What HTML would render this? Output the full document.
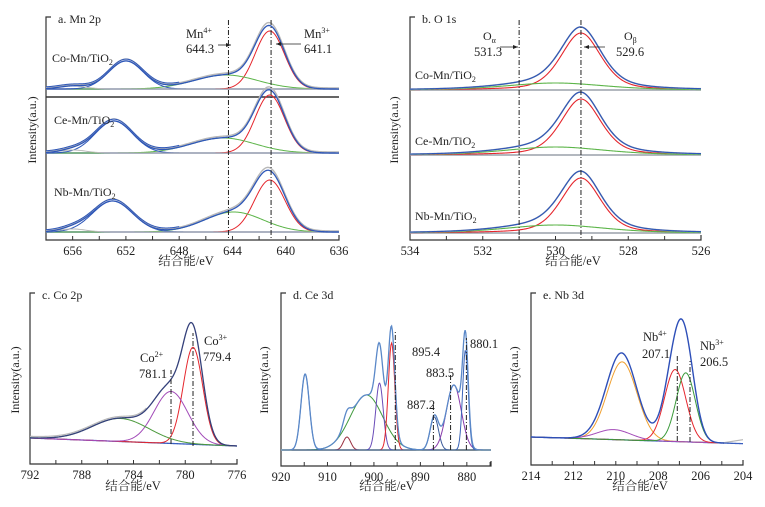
<!DOCTYPE html>
<html><head><meta charset="utf-8"><style>
html,body{margin:0;padding:0;background:#fff;}
svg{display:block;font-family:"Liberation Serif","Noto Serif CJK SC","Noto Sans CJK SC",serif;}
</style></head><body>
<svg id="chart" width="765" height="507" viewBox="0 0 765 507" xmlns="http://www.w3.org/2000/svg"></svg>
<script>
// ---------- DATA (binding energies in eV, intensities in a.u.) ----------
// Panel a: Mn 2p  (components: Mn3+ red, Mn4+ green, 2p1/2 blue, satellite gray)
const mnCompNames=['mn3','mn4','mn2p12','sat'];
const mnCoCenters=[641.2,644.5,652.0,656.0];
const mnCoHeights=[58,14,28,3];
const mnCoWidths=[1.1,2.4,1.3,1.0];
const mnCeCenters=[641.2,644.7,652.9,656.0];
const mnCeHeights=[58,15,32,3];
const mnCeWidths=[1.1,2.4,1.4,1.0];
const mnNbCenters=[641.2,643.9,653.0,656.0];
const mnNbHeights=[52,20,31,3];
const mnNbWidths=[1.15,2.2,1.5,1.0];
const mnTicks=[656,652,648,644,640,636];
const mnRefLines=[644.3,641.1];
// Panel b: O 1s (O-beta lattice red, O-alpha green)
const oCoCenters=[529.3,530.0];
const oCoHeights=[57,7];
const oCoWidths=[1.3,3.2];
const oCeCenters=[529.3,530.0];
const oCeHeights=[56,8];
const oCeWidths=[1.3,3.2];
const oNbCenters=[529.3,530.0];
const oNbHeights=[55,8];
const oNbWidths=[1.3,3.2];
const oTicks=[534,532,530,528,526];
const oRefLines=[531.0,529.3];
// Panel c: Co 2p
const coCenters=[779.4,781.1,785.0];
const coHeights=[97,52,23];
const coWidths=[0.75,1.3,2.2];
const coTicks=[792,788,784,780,776];
// Panel d: Ce 3d
const ceCenters=[914.8,905.8,901.6,898.8,896.2,887.0,882.8,880.3];
const ceHeights=[76,13,55,67,107,33,65,100];
const ceWidths=[0.9,0.8,3.5,0.8,0.7,0.9,1.6,0.6];
const ceTicks=[920,910,900,890,880];
// Panel e: Nb 3d
const nbCenters=[209.7,210.1,207.2,206.7];
const nbHeights=[78,10,72,69];
const nbWidths=[0.7,0.8,0.5,0.45];
const nbTicks=[214,212,210,208,206,204];

// ---------- helpers ----------
const NS='http://www.w3.org/2000/svg';
const svg=document.getElementById('chart');
function mk(tag,attrs,parent){const e=document.createElementNS(NS,tag);for(const k in attrs)e.setAttribute(k,attrs[k]);(parent||svg).appendChild(e);return e;}
function gauss(e,c,h,s){return h*Math.exp(-((e-c)*(e-c))/(2*s*s));}
function pv(e,c,h,f){const s=f/2.3548,g=Math.exp(-((e-c)*(e-c))/(2*s*s)),l=1/(1+4*(e-c)*(e-c)/(f*f));return h*(0.6*g+0.4*l);}
function xs(p,ev){return p.x0+(p.eMax-ev)/(p.eMax-p.eMin)*(p.x1-p.x0);}
function pathFrom(p,fn,baseFn,lo,hi){let d='';const n=300;const a=lo===undefined?p.eMin:lo,b=hi===undefined?p.eMax:hi;for(let i=0;i<=n;i++){const ev=a+(b-a)*i/n;const y=baseFn(ev)-fn(ev);d+=(i?'L':'M')+xs(p,ev).toFixed(2)+','+y.toFixed(2);}return d;}
function txt(x,y,s,attrs,parent){const t=mk('text',Object.assign({x:x,y:y,'font-size':12,fill:'#222'},attrs||{}),parent);t.textContent=s;return t;}

function axes(p,g,ticks,minorStep,title,xlabelX,ylabelX,ylabelY,lblY,xtY){
  const ax=mk('path',{d:`M${p.x0+5},${p.yTop}H${p.x0}V${p.yBot}H${p.x1}V${p.yBot-5}`,fill:'none',stroke:'#333','stroke-width':1.2},g);
  
  
  for(let ev=p.eMax;ev>=p.eMin-1e-6;ev-=minorStep){
    const x=xs(p,ev);
    const tk=mk('line',{x1:x,x2:x,y1:p.yBot,y2:p.yBot-4,stroke:'#333','stroke-width':1},g);
    
    
  }
  ticks.forEach(v=>{
    const t=txt(xs(p,v),p.yBot+15,String(v),{'text-anchor':'middle','font-size':12.5},g);
    
    
  });
  const tt=txt(p.x0+12,p.yTop+6,title,{'font-size':12},g);
  
  
  const xl=txt(xlabelX,xtY,'结合能/eV',{'text-anchor':'middle','font-size':12.5},g);
  
  
  const yl=txt(0,0,'Intensity(a.u.)',{'text-anchor':'middle','font-size':12,transform:`translate(${ylabelX},${ylabelY}) rotate(-90)`},g);
  
  
}
function curve(p,g,d,color,w,name){
  const c=mk('path',{d:d,fill:'none',stroke:color,'stroke-width':w},g);
  
  
  return c;
}
function vline(p,g,ev,y1,y2,name){
  const l=mk('line',{x1:xs(p,ev),x2:xs(p,ev),y1:y1,y2:y2,stroke:'#222','stroke-width':1,'stroke-dasharray':'5,2,1,2'},g);
  
  
}
function supLabel(x,y,base,sup,g,name){
  const t=txt(x,y,base,{'font-size':12.5},g);
  const s=mk('tspan',{dy:-5,'font-size':8},t);s.textContent=sup;
  
  
}
function subLabel(x,y,base,sub,g,name){
  const t=txt(x,y,base,{'font-size':12},g);
  const s=mk('tspan',{dy:3,'font-size':8},t);s.textContent=sub;
  
  
}
function arrow(g,x1,x2,y,name){
  const l=mk('line',{x1:x1,x2:x2,y1:y,y2:y,stroke:'#222','stroke-width':0.8},g);
  
  
  const dir=x2>x1?1:-1;
  const h=mk('path',{d:`M${x2},${y}L${x2-dir*5},${y-2}L${x2-dir*5},${y+2}Z`,fill:'#222'},g);
  
  
}

const RED='#e5262d',GREEN='#5db54a',BLUE='#2e57b8',GRAY='#b8b8b8',PURPLE='#a24bb8';

// ---------- Panel a ----------
(function(){
  const g=mk('g',{});
  const p={eMax:658,eMin:636,x0:46,x1:339,yTop:17,yBot:240};
  axes(p,g,mnTicks,2,'a. Mn 2p',186,36,130,0,265);
  const samples=[
    {c:mnCoCenters,h:mnCoHeights,w:mnCoWidths,base:89,label:'Co-Mn/TiO',ly:62,lx:52},
    {c:mnCeCenters,h:mnCeHeights,w:mnCeWidths,base:153,label:'Ce-Mn/TiO',ly:124,lx:54},
    {c:mnNbCenters,h:mnNbHeights,w:mnNbWidths,base:232,label:'Nb-Mn/TiO',ly:196,lx:54}];
  const sep=mk('line',{x1:46,x2:339,y1:97,y2:97,stroke:'#333','stroke-width':1.5},g);
  
  samples.forEach((s,si)=>{
    const bf=()=>s.base;
    curve(p,g,`M${p.x0},${s.base}H${p.x1}`,'#8090b8',1.8,'baseline');
    const cols=[RED,GREEN,BLUE,GRAY];
    s.c.forEach((c,i)=>{
      curve(p,g,pathFrom(p,ev=>gauss(ev,c,s.h[i],s.w[i]),bf),cols[i],1,'component-'+mnCompNames[i]);
    });
    const tot=ev=>s.c.reduce((a,c,i)=>a+gauss(ev,c,s.h[i],s.w[i]),0);
    curve(p,g,pathFrom(p,ev=>tot(ev)*1.03+1,bf),GRAY,1.4,'raw-data');
    curve(p,g,pathFrom(p,tot,bf),BLUE,1.3,'fit-envelope');
    curve(p,g,pathFrom(p,ev=>tot(ev)+1.8,bf,648,658),BLUE,1,'fit-envelope-2');
    subLabel(s.lx,s.ly,s.label,'2',g,'sample-label');
  });
  vline(p,g,mnRefLines[0],20,240,'mn4-line');
  vline(p,g,mnRefLines[1],20,240,'mn3-line');
  supLabel(186,38,'Mn','4+',g,'mn4-label');
  txt(186,53,'644.3',{'font-size':12.5},g);
  arrow(g,218,231,45,'mn4-arrow');
  supLabel(304,38,'Mn','3+',g,'mn3-label');
  txt(304,53,'641.1',{'font-size':12.5},g);
  arrow(g,301,276,44,'mn3-arrow');
})();

// ---------- Panel b ----------
(function(){
  const g=mk('g',{});
  const p={eMax:534,eMin:526,x0:410,x1:701,yTop:17,yBot:240};
  axes(p,g,oTicks,1,'b. O 1s',573,398,130,0,265);
  const samples=[
    {c:oCoCenters,h:oCoHeights,w:oCoWidths,base:90,label:'Co-Mn/TiO',ly:79},
    {c:oCeCenters,h:oCeHeights,w:oCeWidths,base:155,label:'Ce-Mn/TiO',ly:145},
    {c:oNbCenters,h:oNbHeights,w:oNbWidths,base:233,label:'Nb-Mn/TiO',ly:220}];
  samples.forEach(s=>{
    const bf=()=>s.base;
    curve(p,g,`M${p.x0},${s.base}H${p.x1}`,'#9aa0aa',1.4,'baseline');
    curve(p,g,pathFrom(p,ev=>pv(ev,s.c[0],s.h[0],s.w[0]),bf),RED,1.1,'component-o-beta');
    curve(p,g,pathFrom(p,ev=>pv(ev,s.c[1],s.h[1],s.w[1]),bf),GREEN,1.1,'component-o-alpha');
    const tot=ev=>pv(ev,s.c[0],s.h[0],s.w[0])+pv(ev,s.c[1],s.h[1],s.w[1]);
    curve(p,g,pathFrom(p,tot,bf),GRAY,1.6,'raw-data');
    curve(p,g,pathFrom(p,tot,bf),BLUE,1.2,'fit-envelope');
    subLabel(415,s.ly,s.label,'2',g,'sample-label');
  });
  vline(p,g,oRefLines[0],20,240,'o-alpha-line');
  vline(p,g,oRefLines[1],20,240,'o-beta-line');
  subLabel(483,40,'O','α',g,'o-alpha-label');
  txt(474,56,'531.3',{'font-size':12.5},g);
  arrow(g,500,518,47,'o-alpha-arrow');
  subLabel(624,40,'O','β',g,'o-beta-label');
  txt(616,56,'529.6',{'font-size':12.5},g);
  arrow(g,605,584,47,'o-beta-arrow');
})();

// ---------- Panel c ----------
(function(){
  const g=mk('g',{});
  const p={eMax:792,eMin:776,x0:30,x1:237,yTop:293,yBot:464};
  axes(p,g,coTicks,2,'c. Co 2p',133,19,380,0,490);
  const bf=ev=>438+(792-ev)/16*8;
  const cols=[RED,PURPLE,'#4c9a3c'];
  const names=['co3','co2','satellite'];
  curve(p,g,pathFrom(p,()=>0,bf),'#3a5fc0',1.3,'baseline');
  coCenters.forEach((c,i)=>curve(p,g,pathFrom(p,ev=>gauss(ev,c,coHeights[i],coWidths[i]),bf),cols[i],1,'component-'+names[i]));
  const tot=ev=>coCenters.reduce((a,c,i)=>a+gauss(ev,c,coHeights[i],coWidths[i]),0);
  curve(p,g,pathFrom(p,ev=>tot(ev)+1.5,bf,783,792),GRAY,1.2,'raw-data');
  curve(p,g,pathFrom(p,tot,bf),'#34407a',1.3,'fit-envelope');
  vline(p,g,781.1,444,370,'co2-line');
  vline(p,g,779.4,446,333,'co3-line');
  supLabel(140,362,'Co','2+',g,'co2-label');
  txt(139,378,'781.1',{'font-size':12.5},g);
  supLabel(204,345,'Co','3+',g,'co3-label');
  txt(203,361,'779.4',{'font-size':12.5},g);
})();

// ---------- Panel d ----------
(function(){
  const g=mk('g',{});
  const p={eMax:920,eMin:874.8,x0:281,x1:491,yTop:293,yBot:466};
  axes(p,g,ceTicks,5,'d. Ce 3d',387,268,380,0,490);
  const bf=()=>450;
  const cols=['#4a7cc4','#9a3040','#3f9a3c','#6a4cb8',RED,'#3a5a9a','#8a3cac','#3a64b8'];
  curve(p,g,`M${p.x0},450H${p.x1}`,'#b8b890',2,'baseline');
  ceCenters.forEach((c,i)=>curve(p,g,pathFrom(p,ev=>gauss(ev,c,ceHeights[i],ceWidths[i]),bf),cols[i],1,'component-'+i));
  const tot=ev=>ceCenters.reduce((a,c,i)=>a+gauss(ev,c,ceHeights[i],ceWidths[i]),0);
  curve(p,g,pathFrom(p,tot,bf),'#5a88c8',1.3,'fit-envelope');
  vline(p,g,895.4,450,330,'ce-895-line');
  vline(p,g,887.2,450,405,'ce-887-line');
  vline(p,g,883.5,450,375,'ce-883-line');
  vline(p,g,880.1,450,338,'ce-880-line');
  txt(412,356,'895.4',{'font-size':12.5},g);
  txt(407,409,'887.2',{'font-size':12.5},g);
  txt(426,377,'883.5',{'font-size':12.5},g);
  txt(470,348,'880.1',{'font-size':12.5},g);
})();

// ---------- Panel e ----------
(function(){
  const g=mk('g',{});
  const p={eMax:214,eMin:204,x0:531,x1:743,yTop:293,yBot:465};
  axes(p,g,nbTicks,1,'e. Nb 3d',640,518,380,0,490);
  const bf=ev=>437+(214-ev)/9*6;
  const cols=['#f0a030',PURPLE,RED,'#3a9a3a'];
  const names=['nb-3d32-orange','nb-minor','nb4','nb3'];
  curve(p,g,pathFrom(p,ev=>(ev<205?(205-ev)*4:0),bf,204,206),GRAY,1.2,'raw-tail');
  curve(p,g,pathFrom(p,()=>0,bf),'#3a5fc0',1.3,'baseline');
  nbCenters.forEach((c,i)=>curve(p,g,pathFrom(p,ev=>gauss(ev,c,nbHeights[i],nbWidths[i]),bf,204.9,214),cols[i],1,'component-'+names[i]));
  const tot=ev=>nbCenters.reduce((a,c,i)=>a+gauss(ev,c,nbHeights[i],nbWidths[i]),0);
  curve(p,g,pathFrom(p,tot,bf,204.9,214),'#2e4fb8',1.4,'fit-envelope');
  vline(p,g,207.1,441,355,'nb4-line');
  vline(p,g,206.5,442,361,'nb3-line');
  supLabel(643,341,'Nb','4+',g,'nb4-label');
  txt(642,358,'207.1',{'font-size':12.5},g);
  supLabel(700,350,'Nb','3+',g,'nb3-label');
  txt(700,366,'206.5',{'font-size':12.5},g);
})();
</script>
</body></html>
